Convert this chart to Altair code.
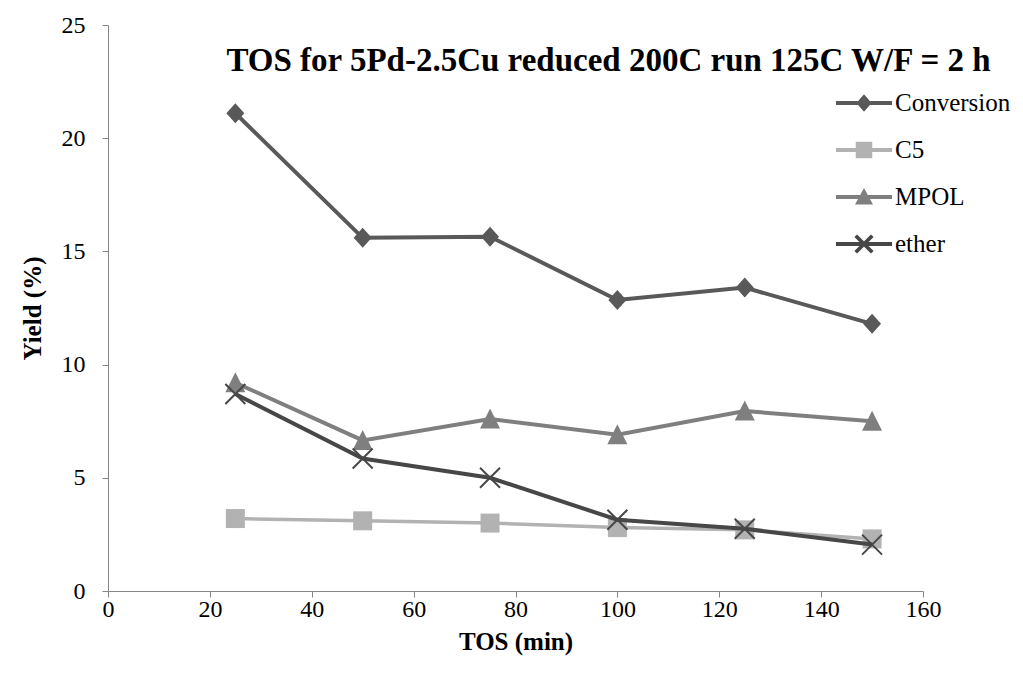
import altair as alt
import pandas as pd

# ---- data ----
tos = [25, 50, 75, 100, 125, 150]
series_names = ["Conversion", "C5", "MPOL", "ether"]
conversion = [21.1, 15.6, 15.65, 12.85, 13.4, 11.8]
c5 = [3.2, 3.1, 3.0, 2.8, 2.7, 2.3]
mpol = [9.2, 6.65, 7.6, 6.9, 7.95, 7.5]
ether = [8.7, 5.85, 5.0, 3.15, 2.75, 2.05]
x_ticks = [0, 20, 40, 60, 80, 100, 120, 140, 160]
y_ticks = [0, 5, 10, 15, 20, 25]

# ---- styles ----
series_colors = ["#595959", "#b2b2b2", "#7f7f7f", "#474747"]
line_widths = [4, 3.5, 4, 4]
marker_paths = [
    "M0,-1L0.9,0L0,1L-0.9,0Z",
    "M-0.95,-0.95H0.95V0.95H-0.95Z",
    "M0,-1.05L1,0.95L-1,0.95Z",
    "M-0.93,-1.07L1.07,0.93L0.93,1.07L-1.07,-0.93ZM-1.07,0.93L0.93,-1.07L1.07,-0.93L-0.93,1.07Z",
]
LINE = "M-1.87,-0.13H1.87V0.13H-1.87Z"
legend_paths = [
    LINE + "M0,-0.58L0.5,0L0,0.58L-0.5,0Z",
    LINE + "M-0.55,-0.55H0.55V0.55H-0.55Z",
    LINE + "M0,-0.6L0.6,0.5L-0.6,0.5Z",
    LINE + "M-0.46,-0.64L0.64,0.46L0.46,0.64L-0.64,-0.46ZM-0.64,0.46L0.46,-0.64L0.64,-0.46L-0.46,0.64Z",
]
SERIF = "Liberation Serif"

rows = []
for name, vals in zip(series_names, [conversion, c5, mpol, ether]):
    for t, v in zip(tos, vals):
        rows.append({"tos": t, "yield": v, "series": name})
df = pd.DataFrame(rows)

x_enc = alt.X("tos:Q", scale=alt.Scale(domain=[0, 160], nice=False),
              axis=alt.Axis(values=x_ticks, title="TOS (min)"))
y_enc = alt.Y("yield:Q", scale=alt.Scale(domain=[0, 25], nice=False),
              axis=alt.Axis(values=y_ticks, title="Yield (%)"))

base = alt.Chart(df)
layers = []
for i, name in enumerate(series_names):
    sub = base.transform_filter(alt.datum.series == name)
    layers.append(sub.mark_line(color=series_colors[i], strokeWidth=line_widths[i])
                  .encode(x=x_enc, y=y_enc))
    layers.append(sub.mark_point(shape=marker_paths[i], filled=True, size=400,
                                 color=series_colors[i], opacity=1, strokeWidth=0)
                  .encode(x=x_enc, y=y_enc))

leg = alt.Legend(title=None, labelFont=SERIF, labelFontSize=25, labelColor="black")
legend_layer = base.transform_filter("false").mark_point(filled=True, size=900, opacity=1).encode(
    x=x_enc, y=y_enc,
    color=alt.Color("series:N", scale=alt.Scale(domain=series_names, range=series_colors),
                    legend=leg),
    shape=alt.Shape("series:N", scale=alt.Scale(domain=series_names, range=legend_paths),
                    legend=leg),
)

chart = alt.layer(*layers, legend_layer).properties(
    width=815,
    height=566,
    title=alt.TitleParams(
        text="TOS for 5Pd-2.5Cu reduced 200C run 125C W/F = 2 h",
        font=SERIF, fontSize=33, fontWeight="bold", color="black",
        anchor="middle", frame="group", baseline="alphabetic", dx=93, offset=-91,
    ),
    autosize=alt.AutoSizeParams(type="none"),
    padding={"left": 100, "top": 17, "right": 90, "bottom": 84},
).configure(font=SERIF).configure_view(stroke=None).configure_axis(
    grid=False, domainColor="#868686", tickColor="#868686", domainWidth=1, tickWidth=1,
    tickSize=6, labelFont=SERIF, labelFontSize=24, labelColor="black",
    titleFont=SERIF, titleFontSize=25, titleFontWeight="bold", titleColor="black",
    labelFlush=False,
).configure_axisX(
    labelPadding=0, titlePadding=8,
).configure_axisY(
    labelPadding=17, titlePadding=16,
).configure_legend(
    orient="none", legendX=741, legendY=63, padding=0,
    labelFont=SERIF, labelFontSize=25, labelColor="black",
    symbolSize=900, symbolStrokeWidth=0, symbolOffset=0, labelOffset=16, rowPadding=19,
)

chart.save("out.html", embed_options={"renderer": "svg", "actions": False})
